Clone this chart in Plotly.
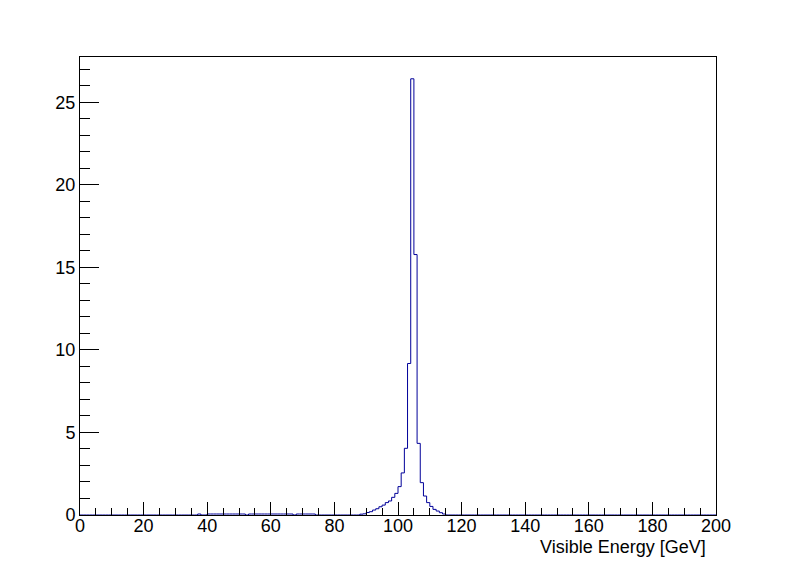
import plotly.graph_objects as go

# Histogram definition: 200 bins of 1 GeV from 0 to 200
n_bins = 200
x_min, x_max = 0, 200

# Non-zero bins: (lower edge in GeV) -> content
low_tail_edges = [37, 40, 41, 42, 43, 44, 45, 46, 47, 48, 49, 50, 51,
                  53, 54, 55, 56, 57, 58, 59, 60, 61, 62, 63, 64, 65, 66,
                  68, 69, 70, 71, 72, 73]
low_tail_counts = [0.06, 0.06, 0.06, 0.06, 0.06, 0.06, 0.06, 0.06, 0.06, 0.06, 0.06, 0.06, 0.06,
                   0.06, 0.06, 0.06, 0.06, 0.06, 0.06, 0.06, 0.06, 0.06, 0.06, 0.06, 0.06, 0.06, 0.06,
                   0.06, 0.06, 0.06, 0.06, 0.06, 0.06]

peak_edges = [88, 89, 90, 91, 92, 93, 94, 95, 96, 97, 98, 99, 100, 101, 102, 103,
              104, 105, 106, 107, 108, 109, 110, 111, 112, 113, 114]
peak_counts = [0.05, 0.07, 0.15, 0.2, 0.3, 0.38, 0.5, 0.6, 0.75, 0.85, 1.07, 1.31, 1.72, 2.55, 4.04, 9.18,
               26.43, 15.78, 4.34, 1.96, 1.15, 0.75, 0.52, 0.34, 0.24, 0.14, 0.06]

x_major_ticks = [0, 20, 40, 60, 80, 100, 120, 140, 160, 180, 200]
y_major_ticks = [0, 5, 10, 15, 20, 25]
x_title = "Visible Energy [GeV]"

# Build full bin content array
counts = [0.0] * n_bins
for e, c in zip(low_tail_edges + peak_edges, low_tail_counts + peak_counts):
    counts[e - x_min] = c

edges = list(range(x_min, x_max + 1))
y_step = counts + [counts[-1]]

fig = go.Figure()
fig.add_trace(go.Scatter(
    x=edges, y=y_step, mode="lines", line_shape="hv",
    line=dict(color="#000099", width=1), showlegend=False, hoverinfo="skip"))

font = dict(family="Liberation Sans, Arial, Helvetica, sans-serif", size=18, color="black")

fig.update_layout(
    width=796, height=572,
    margin=dict(l=72, r=88, t=49, b=65, pad=0),
    paper_bgcolor="white", plot_bgcolor="white",
    font=font,
    xaxis=dict(range=[x_min, x_max], tickvals=x_major_ticks, ticks="inside", ticklen=13,
               tickcolor="black", tickwidth=1, showline=True, linecolor="black", linewidth=1,
               mirror=True, showgrid=False, zeroline=False, tickfont=font, ticklabelstandoff=-6,
               minor=dict(dtick=5, ticks="inside", ticklen=7, tickcolor="black", tickwidth=1, showgrid=False)),
    yaxis=dict(range=[0, 27.75], tickvals=y_major_ticks, ticks="inside", ticklen=19,
               tickcolor="black", tickwidth=1, showline=True, linecolor="black", linewidth=1,
               mirror=True, showgrid=False, zeroline=False, tickfont=font,
               minor=dict(dtick=1, ticks="inside", ticklen=10, tickcolor="black", tickwidth=1, showgrid=False)),
    annotations=[dict(text=x_title, xref="paper", yref="paper", x=(708 - 80) / 636, y=(515 - 547) / 458,
                      xanchor="right", yanchor="middle", showarrow=False, font=font)],
)

fig.write_html("out.html")
